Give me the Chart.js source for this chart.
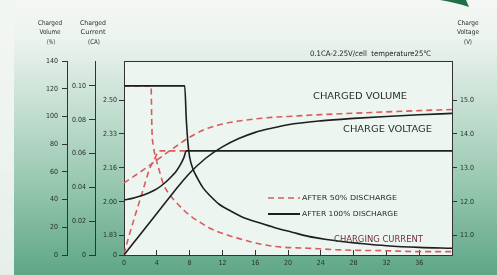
<!DOCTYPE html>
<html>
<head>
<meta charset="utf-8">
<script src="https://cdn.jsdelivr.net/npm/chart.js@4.4.1/dist/chart.umd.min.js"></script>
<style>
    html, body { margin: 0; padding: 0; background: #f3f6f3; }
    #wrap { width: 497px; height: 275px; position: relative; }
</style>
</head>
<body>
<div id="wrap"><canvas id="chargeChart"></canvas></div>
<script>
// hours of charging -> readings
var current100Hours = [0, 7.4, 7.6, 7.8, 8.0, 8.4, 9, 9.6, 10.5, 11.6, 13, 14.4, 16.5, 18.5, 20.5, 22.5, 24.5, 26.5, 28.5, 32, 36, 40];
var current100 = [0.100, 0.100, 0.080, 0.066, 0.058, 0.051, 0.045, 0.040, 0.035, 0.030, 0.026, 0.0225, 0.019, 0.016, 0.0135, 0.011, 0.0093, 0.008, 0.007, 0.0055, 0.0045, 0.004];

var current50Hours = [0, 3.3, 3.4, 3.6, 3.9, 4.3, 4.8, 5.5, 6.4, 7.4, 8.4, 9.4, 10.4, 12.5, 15.3, 18.5, 22.5, 26.5, 32, 36, 40];
var current50 = [0.100, 0.100, 0.075, 0.064, 0.057, 0.050, 0.042, 0.036, 0.031, 0.026, 0.022, 0.019, 0.016, 0.012, 0.008, 0.005, 0.004, 0.003, 0.0025, 0.002, 0.002];

var voltage100Hours = [0, 1, 2, 3, 4, 5, 6, 6.3, 6.9, 7.3, 7.6, 40];
var voltage100 = [12.05, 12.1, 12.17, 12.26, 12.38, 12.56, 12.8, 12.88, 13.1, 13.3, 13.5, 13.5];

var voltage50Hours = [0, 0.5, 1.3, 2.2, 3.1, 3.8, 4.3, 7.6];
var voltage50 = [10.45, 10.9, 11.55, 12.25, 12.95, 13.3, 13.5, 13.5];

var volumeHours = [0, 2, 4, 6, 8, 10, 12, 14, 16, 18, 20, 24, 28, 32, 36, 40];
var volume100 = [0, 15, 30, 45, 59, 70, 78, 84, 88.5, 91.5, 94, 96.8, 98.6, 100, 101.2, 102.2];
var volume50 = [52, 60, 68.5, 77, 85, 91, 94.5, 96.7, 98.2, 99.3, 100, 101.3, 102.3, 103.3, 104.2, 105];

// tick labels
var batteryVoltTicks = [11, 12, 13, 14, 15];
var cellVoltTicks = ['1.83', '2.00', '2.16', '2.33', '2.50'];

var voltMin = 10.43;
var voltMax = 16.15;

var narrow = "'Liberation Sans Narrow', 'DejaVu Sans Condensed', 'Roboto', sans-serif";
var inkColor = '#26302b';
var redDash = '#d95b5b';
var blackLine = '#1e1e1e';

function toPoints(hours, values) {
    return hours.map((h, i) => ({ x: h, y: values[i] }));
}

function squeezeText(ctx, text, x, y, width, size, color, align) {
    ctx.save();
    ctx.font = size + 'px ' + narrow;
    ctx.fillStyle = color;
    ctx.textBaseline = 'middle';
    ctx.textAlign = align || 'left';
    var w = ctx.measureText(text).width;
    ctx.translate(x, y);
    if (width) ctx.scale(width / w, 1);
    ctx.fillText(text, 0, 0);
    ctx.restore();
}

var decor = {
    id: 'decor',
    beforeDraw(chart) {
        var ctx = chart.ctx;
        var a = chart.chartArea;
        ctx.save();
        var g = ctx.createLinearGradient(0, 0, 0, 275);
        g.addColorStop(0, '#f4f7f4');
        g.addColorStop(0.14, '#edf3ef');
        g.addColorStop(0.32, '#d0e5da');
        g.addColorStop(0.65, '#9bc9b2');
        g.addColorStop(1, '#5ea687');
        ctx.fillStyle = g;
        ctx.fillRect(0, 0, 497, 275);
        ctx.fillStyle = 'rgba(242,245,242,0.92)';
        ctx.fillRect(0, 0, 14, 275);

        ctx.fillStyle = '#1f6f47';
        ctx.beginPath();
        ctx.moveTo(440, 0);
        ctx.quadraticCurveTo(457, 3, 469, 7);
        ctx.lineTo(466, 0);
        ctx.closePath();
        ctx.fill();

        ctx.fillStyle = '#edf5f0';
        ctx.fillRect(a.left, a.top, a.right - a.left, a.bottom - a.top);
        ctx.restore();
    },
    afterDraw(chart) {
        var ctx = chart.ctx;
        var a = chart.chartArea;
        ctx.save();
        ctx.strokeStyle = '#333';
        ctx.lineWidth = 1;
        ctx.beginPath();
        ctx.moveTo(a.left, a.top + 0.5);
        ctx.lineTo(a.right, a.top + 0.5);
        ctx.stroke();

        squeezeText(ctx, 'Charged', 50, 23, 24, 6.5, inkColor, 'center');
        squeezeText(ctx, 'Volume', 50, 32, 21, 6.5, inkColor, 'center');
        squeezeText(ctx, '(%)', 51, 42, 8, 6.5, inkColor, 'center');
        squeezeText(ctx, 'Charged', 93, 23, 26, 6.5, inkColor, 'center');
        squeezeText(ctx, 'Current', 93, 32, 25, 6.5, inkColor, 'center');
        squeezeText(ctx, '(CA)', 94, 42, 12, 6.5, inkColor, 'center');
        squeezeText(ctx, 'Charge', 468, 23, 21, 6.5, inkColor, 'center');
        squeezeText(ctx, 'Voltage', 468, 32, 22, 6.5, inkColor, 'center');
        squeezeText(ctx, '(V)', 468, 42, 8, 6.5, inkColor, 'center');

        squeezeText(ctx, '0.1CA-2.25V/cell  temperature25\u2103', 310, 54, 121, 7.5, '#222');

        squeezeText(ctx, 'CHARGED VOLUME', 313, 97, 94, 9.5, '#2b2b2b');
        squeezeText(ctx, 'CHARGE VOLTAGE', 343, 130, 89, 9.5, '#2b2b2b');
        squeezeText(ctx, 'CHARGING CURRENT', 334, 240, 89, 8.5, '#6e2f3a');

        ctx.lineWidth = 1.6;
        ctx.strokeStyle = redDash;
        ctx.setLineDash([6, 4]);
        ctx.beginPath();
        ctx.moveTo(268, 198);
        ctx.lineTo(300, 198);
        ctx.stroke();
        ctx.setLineDash([]);
        ctx.strokeStyle = blackLine;
        ctx.lineWidth = 2;
        ctx.beginPath();
        ctx.moveTo(268, 214);
        ctx.lineTo(300, 214);
        ctx.stroke();
        squeezeText(ctx, 'AFTER 50% DISCHARGE', 302, 198, 95, 7, '#2b2b2b');
        squeezeText(ctx, 'AFTER 100% DISCHARGE', 302, 214, 96, 7, '#2b2b2b');
        ctx.restore();
    }
};

Chart.defaults.font.family = narrow;
Chart.defaults.font.size = 7;
Chart.defaults.color = inkColor;

function curve(points, axis, color, dashed) {
    return {
        data: points,
        yAxisID: axis,
        borderColor: color,
        borderWidth: 1.6,
        borderDash: dashed ? [6, 4] : [],
        pointRadius: 0,
        fill: false,
        cubicInterpolationMode: 'monotone'
    };
}

var axisGrid = { drawOnChartArea: false, tickLength: 5, color: '#333' };
var axisBorder = { color: '#333', width: 1 };

var ctx = document.getElementById('chargeChart').getContext('2d');

var myChart = new Chart(ctx, {
    type: 'line',
    data: {
        datasets: [
            curve(toPoints(current100Hours, current100), 'yCur', blackLine, false),
            curve(toPoints(voltage100Hours, voltage100), 'yV', blackLine, false),
            curve(toPoints(volumeHours, volume100), 'yVol', blackLine, false),
            curve(toPoints(current50Hours, current50), 'yCur', redDash, true),
            curve(toPoints(voltage50Hours, voltage50), 'yV', redDash, true),
            curve(toPoints(volumeHours, volume50), 'yVol', redDash, true)
        ]
    },
    options: {
        responsive: true,
        maintainAspectRatio: false,
        animation: false,
        layout: { padding: { top: 61, left: 0, right: 0, bottom: 0 } },
        plugins: {
            legend: { display: false },
            tooltip: { enabled: false }
        },
        scales: {
            x: {
                type: 'linear',
                min: 0,
                max: 40,
                ticks: {
                    stepSize: 4,
                    padding: 9,
                    maxRotation: 0,
                    callback: (v) => v < 40 ? v : ''
                },
                grid: { drawOnChartArea: false, tickLength: -5, color: '#333' },
                border: axisBorder,
                afterFit: (s) => { s.height = 20; }
            },
            yVol: {
                position: 'left',
                weight: 2,
                min: 0,
                max: 140,
                ticks: { stepSize: 20, padding: 4 },
                grid: axisGrid,
                border: axisBorder,
                afterFit: (s) => { s.width = 67; }
            },
            yCur: {
                position: 'left',
                weight: 1,
                min: 0,
                max: 0.1147,
                ticks: {
                    stepSize: 0.02,
                    includeBounds: false,
                    padding: 3,
                    callback: (v) => v === 0 ? '0' : v.toFixed(2)
                },
                grid: { drawOnChartArea: false, tickLength: 6, color: '#333' },
                border: axisBorder,
                afterFit: (s) => { s.width = 28; }
            },
            yCell: {
                position: 'left',
                weight: 0,
                min: voltMin / 6,
                max: voltMax / 6,
                afterBuildTicks: (s) => {
                    s.ticks = [{ value: voltMin / 6 }].concat(batteryVoltTicks.map((v) => ({ value: v / 6 })));
                },
                ticks: {
                    padding: 2,
                    callback: (v, i) => i === 0 ? '0' : cellVoltTicks[i - 1]
                },
                grid: axisGrid,
                border: axisBorder,
                afterFit: (s) => { s.width = 29; }
            },
            yV: {
                position: 'right',
                min: voltMin,
                max: voltMax,
                afterBuildTicks: (s) => {
                    s.ticks = batteryVoltTicks.map((v) => ({ value: v }));
                },
                ticks: {
                    padding: 3,
                    callback: (v) => v.toFixed(1)
                },
                grid: axisGrid,
                border: axisBorder,
                afterFit: (s) => { s.width = 45; }
            }
        }
    },
    plugins: [decor]
});
</script>
</body>
</html>
